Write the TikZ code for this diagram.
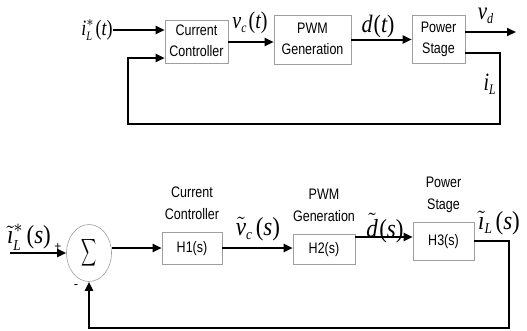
\documentclass[tikz,border=0pt]{standalone}
\usepackage[no-math]{fontspec}
\setmainfont{Liberation Sans}
\newfontfamily\tm{Liberation Serif}
\usetikzlibrary{arrows.meta,shapes.geometric,positioning}
% block captions: Arial-like, slightly tall
\newcommand{\bt}[1]{\scalebox{1}[1.22]{\fontsize{12.5}{17.5}\selectfont\begin{tabular}{@{}c@{}}#1\end{tabular}}}
% signal labels: Times-like italic letters, upright brackets, scaled from 10pt
\newcommand{\lv}[1]{\hbox{\tm\itshape #1}}
\newcommand{\ls}[1]{\hbox{\tm\itshape\fontsize{5.8}{5.8}\selectfont #1}}
\newcommand{\lp}[1]{\hbox{\tm #1}}
\newcommand{\ml}[3]{\scalebox{#1}[#2]{$#3$}}
\begin{document}
\begin{tikzpicture}[x=1pt,y=-1pt,
  blk/.style={draw=gray!75, line width=0.6pt, fill=white, inner sep=0pt},
  sig/.style={line width=2pt, -{Triangle[length=9pt,width=8pt]}},
  lab/.style={inner sep=0pt}]
\useasboundingbox (0,0) rectangle (527,330);

% ---------- time-domain loop ----------
\node[blk, minimum width=63pt, minimum height=40pt] (cc) at (196.5,42) {\bt{Current\\Controller}};
\node[blk, minimum width=77pt, minimum height=49pt] (pwm) at (312.5,39.5) {\bt{PWM\\Generation}};
\node[blk, minimum width=53pt, minimum height=48pt] (ps) at (438.5,39) {\bt{Power\\Stage}};

\node[lab] (iref) at (97,30) {\ml{1.8}{2.2}{\lv{i}_{\ls{L}}^{*}\mkern1mu\lp{(}\lv{t}\lp{)}}};
\node[lab] (vc) at (250,23) {\ml{2.0}{2.4}{\lv{v}_{\ls{c}}\mkern1mu\lp{(}\lv{t}\lp{)}}};
\node[lab] (dt) at (378,26) {\ml{2.2}{2.5}{\lv{d}\mkern1mu\lp{(}\lv{t}\lp{)}}};
\node[lab] (vd) at (486,16) {\ml{2.1}{2.5}{\lv{v}_{\ls{d}}}};
\node[lab] (il) at (490,84) {\ml{2.0}{2.5}{\lv{i}_{\ls{L}}}};

\coordinate (ccin) at ([yshift=12pt]cc.west);
\coordinate (ccfb) at ([yshift=-16pt]cc.west);
\coordinate (psv) at ([yshift=7pt]ps.east);
\coordinate (psi) at ([yshift=-14pt]ps.east);
\coordinate (vdend) at (516,32);
\coordinate (fbR) at (500,124);
\coordinate (fbL) at (128,124);

\draw[sig] (iref.east |- ccin) -- (ccin);
\draw[sig] (cc.east) -- (cc.east -| pwm.west);
\draw[sig] (pwm.east) -- (pwm.east -| ps.west);
\draw[sig] (psv) -- (psv -| vdend);
\draw[sig] (psi) -| (fbR) -- (fbL) |- (ccfb);

% ---------- small-signal loop ----------
\node[ellipse, draw=gray!75, line width=0.6pt, minimum width=45pt, minimum height=57pt, inner sep=0pt] (sum) at (89,253)
  {\scalebox{1.05}[1.9]{$\displaystyle\sum$}};
\node[blk, minimum width=60pt, minimum height=32pt] (h1) at (192,248) {\bt{H1(s)}};
\node[blk, minimum width=62pt, minimum height=30pt] (h2) at (324,249) {\bt{H2(s)}};
\node[blk, minimum width=61pt, minimum height=38pt] (h3) at (443.5,241) {\bt{H3(s)}};

\node[lab, above=6pt of h1] (t1) {\bt{Current\\Controller}};
\node[lab, above=6pt of h2] (t2) {\bt{PWM\\Generation}};
\node[lab, above=6pt of h3] (t3) {\bt{Power\\Stage}};

\node[lab] (iref2) at (29,237) {\ml{2.3}{2.6}{\tilde{\lv{\i}}_{\ls{L}}^{*}\mkern2mu\lp{(}\lv{s}\lp{)}}};
\node[lab] (plus) at (58,247) {\fontsize{12}{12}\selectfont +};
\node[lab] (minus) at (76,287) {\fontsize{13}{13}\selectfont -};
\node[lab] (vcs) at (258,229) {\ml{2.3}{2.6}{\tilde{\lv{v}}_{\ls{c}}\mkern2mu\lp{(}\lv{s}\lp{)}}};
\node[lab] (ds) at (385,228) {\ml{2.3}{2.6}{\tilde{\lv{d}}\mkern1mu\lp{(}\lv{s}\lp{)}}};
\node[lab] (ils) at (499,223) {\ml{2.3}{2.6}{\tilde{\lv{\i}}_{\ls{L}}\mkern2mu\lp{(}\lv{s}\lp{)}}};

\coordinate (inB) at (10,253);
\coordinate (h2o) at ([yshift=12pt]h2.east);
\coordinate (fbB) at (509,328);

\draw[sig] (inB) -- (sum.west);
\draw[sig] (sum.east |- h1.west) -- (h1.west);
\draw[sig] (h1.east) -- (h1.east -| h2.west);
\draw[sig] (h2o) -- (h2o -| h3.west);
\draw[sig] (h3.east) -| (fbB) -| (sum.south);
\end{tikzpicture}
\end{document}
